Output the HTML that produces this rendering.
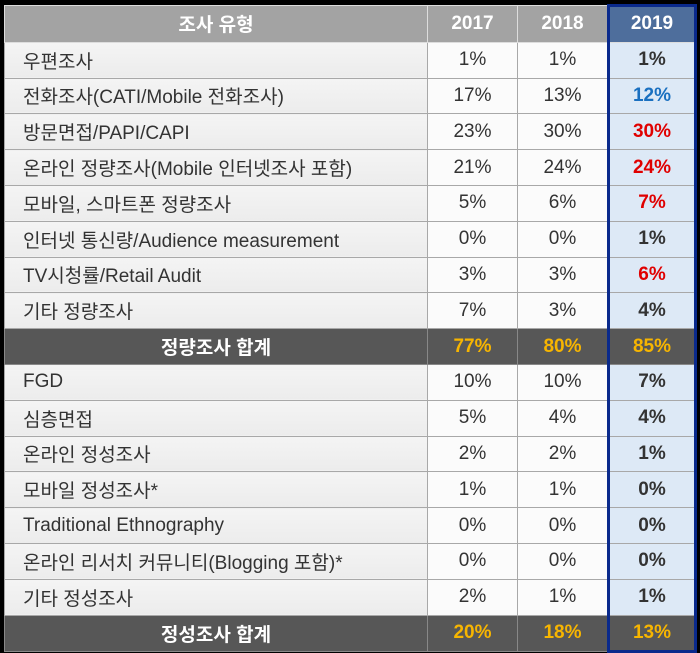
<!DOCTYPE html>
<html><head><meta charset="utf-8"><style>
body{margin:0;background:#000;width:700px;height:653px;overflow:hidden;font-family:"Liberation Sans","Noto Sans CJK KR",sans-serif}
table{position:absolute;left:4px;top:4px;border-collapse:collapse;width:691px;table-layout:fixed}
td{height:34.8px;padding:0;border:1px solid #a8a8a8;font-size:19px;color:#333;text-align:center}
td.l{text-align:left;padding-left:18px;background:linear-gradient(#f4f4f4,#ececec)}
tr.h td{background:#a3a3a3;color:#fff;font-weight:bold;border-color:#ddd}
tr.h td.y{background:#4e6e9c}
tr.s td{background:#575757;color:#f7b500;font-weight:bold;border-color:#888}
tr.s td.l{color:#fff;text-align:center;padding-left:0;background:#575757}
td.y{background:#dde9f6;font-weight:bold;color:#333;border-left:3px solid #0a2a8c!important;border-right:3px solid #0a2a8c!important}
td.v{background:#fbfbfb}
.r{color:#e00000!important}.b{color:#1a70c0!important}
</style></head><body>
<table>
<colgroup><col style="width:423px"><col style="width:90px"><col style="width:91px"><col style="width:87px"></colgroup>
<tbody id="tb"></tbody></table>
<script>
const labels=["우편조사","전화조사(CATI/Mobile 전화조사)","방문면접/PAPI/CAPI","온라인 정량조사(Mobile 인터넷조사 포함)","모바일, 스마트폰 정량조사","인터넷 통신량/Audience measurement","TV시청률/Retail Audit","기타 정량조사","정량조사 합계","FGD","심층면접","온라인 정성조사","모바일 정성조사*","Traditional Ethnography","온라인 리서치 커뮤니티(Blogging 포함)*","기타 정성조사","정성조사 합계"];
const v2017=[1,17,23,21,5,0,3,7,77,10,5,2,1,0,0,2,20];
const v2018=[1,13,30,24,6,0,3,3,80,10,4,2,1,0,0,1,18];
const v2019=[1,12,30,24,7,1,6,4,85,7,4,1,0,0,0,1,13];
const hl=["","b","r","r","r","","r","","","","","","","","","",""];
const tb=document.getElementById('tb');
function row(cells,cls){const tr=document.createElement('tr');if(cls)tr.className=cls;


cells.forEach((c,i)=>{const td=document.createElement('td');td.textContent=c[0];td.className=c[1];


tr.appendChild(td);});tb.appendChild(tr);}
row([["조사 유형","l"],["2017",""],["2018",""],["2019","y"]],'h');
tb.firstChild.firstChild.style.textAlign='center';tb.firstChild.firstChild.style.background='#a3a3a3';tb.firstChild.firstChild.style.paddingLeft='0';
labels.forEach((l,i)=>{const s=(i===8||i===16);
row([[l,"l"],[v2017[i]+"%","v"],[v2018[i]+"%","v"],[v2019[i]+"%","y "+hl[i]]],s?'s':'');});
const last=tb.lastChild.lastChild;last.style.borderBottom='3px solid #0a2a8c';
document.querySelectorAll('tr.s td.y').forEach(t=>t.style.background='#575757');
tb.firstChild.lastChild.style.borderTop='3px solid #0a2a8c';
</script>
</body></html>
